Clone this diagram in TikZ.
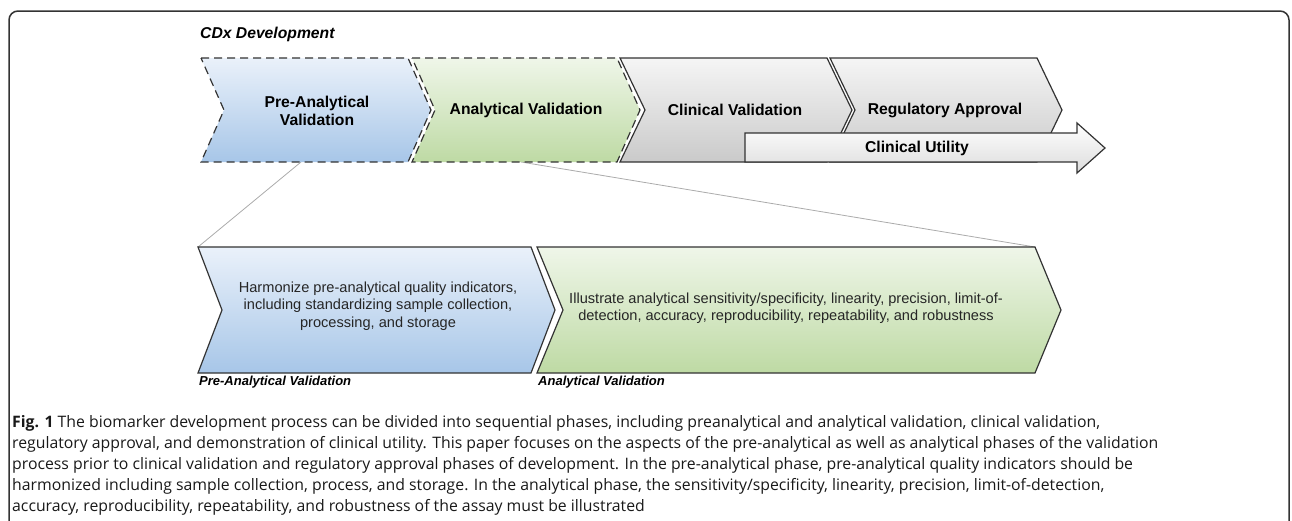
\documentclass[tikz,border=0pt]{standalone}
\usepackage{fontspec}
\setmainfont{Liberation Sans}
\newfontfamily\capfont{Open Sans}
\usetikzlibrary{positioning}

\definecolor{edge}{HTML}{333333}
\definecolor{bluetop}{HTML}{EAF1FA}
\definecolor{bluebot}{HTML}{A7C6E8}
\definecolor{greentop}{HTML}{EFF6E9}
\definecolor{greenbot}{HTML}{BEDAA4}
\definecolor{graytop}{HTML}{F5F5F5}
\definecolor{graybot}{HTML}{CACACA}
\definecolor{utilbot}{HTML}{DCDCDC}
\definecolor{zoomline}{HTML}{ABABAB}

% chevron: [style]{left x}{top y}{width}{height}{tip depth}
\newcommand{\chevron}[6][]{%
  \path[#1] (#2,#3) -- ({#2+#4},#3) -- ({#2+#4+#6},{#3+#5/2}) -- ({#2+#4},{#3+#5})
    -- (#2,{#3+#5}) -- ({#2+#6},{#3+#5/2}) -- cycle;}

\tikzset{
  phase/.style={draw=edge, line width=1.2pt, line join=miter},
  pending/.style={phase, dash pattern=on 8pt off 5pt},
  bluefill/.style={top color=bluetop, bottom color=bluebot},
  greenfill/.style={top color=greentop, bottom color=greenbot},
  grayfill/.style={top color=graytop, bottom color=graybot},
  stage/.style={font=\fontsize{15.7}{18.5}\selectfont\bfseries, align=center, inner sep=0pt},
  detail/.style={font=\fontsize{14.6}{17.5}\selectfont, align=center, text=black!85, inner sep=0pt},
  tag/.style={font=\fontsize{13}{15}\selectfont\bfseries\itshape, anchor=west, inner sep=0pt},
  zoom/.style={draw=zoomline, line width=0.8pt},
  caption/.style={font=\capfont\fontsize{15.8}{21}\selectfont, align=left, anchor=north west, inner sep=0pt, text=black!90},
}

\begin{document}
\begin{tikzpicture}[x=1pt,y=-1pt]
\useasboundingbox (0,0) rectangle (1292,520);
\draw[edge, line width=1.5pt, rounded corners=9pt] (9,11) rectangle (1289,560);

\node[tag, font=\fontsize{15.7}{18}\selectfont\bfseries\itshape] (cdx) at (200,34) {CDx Development};

% zoom lines
\coordinate (preFoot) at (301,162);
\coordinate (anaFoot) at (521,162);
\coordinate (preCorner) at (198,247);
\coordinate (anaCorner) at (1035,247);
\draw[zoom] (preFoot) -- (preCorner);
\draw[zoom] (anaFoot) -- (anaCorner);

% top row
\chevron[pending, bluefill]{201}{58}{207}{104}{23}
\chevron[pending, greenfill]{412}{58}{205}{104}{23}
\chevron[phase, grayfill]{620}{58}{207}{104}{25}
\chevron[phase, grayfill]{830}{58}{207}{104}{25}
\path[phase, top color=white, bottom color=utilbot] (745,133) -- (1077,133) -- (1077,123)
  -- (1105,148) -- (1077,173) -- (1077,162) -- (745,162) -- cycle;

\node[stage] (pre) at (317,111) {Pre-Analytical\\Validation};
\node[stage] (ana) at (526,110) {Analytical Validation};
\node[stage] (clin) at (735,110) {Clinical Validation};
\node[stage] (reg) at (945,110) {Regulatory Approval};
\node[stage] (util) at (917,148) {Clinical Utility};

% bottom row
\chevron[phase, bluefill]{198}{247}{333}{126}{24}
\chevron[phase, greenfill]{537}{247}{498}{126}{26}

\node[detail] (preNote) at (378,306) {Harmonize pre-analytical quality indicators,\\including standardizing sample collection,\\processing, and storage};
\node[detail] (anaNote) at (786,308) {Illustrate analytical sensitivity/specificity, linearity, precision, limit-of-\\detection, accuracy, reproducibility, repeatability, and robustness};

\node[tag] (preTag) at (199,382) {Pre-Analytical Validation};
\node[tag] (anaTag) at (538,382) {Analytical Validation};

\node[caption] (cap) at (12,415) {\textbf{Fig. 1} The biomarker development process can be divided into sequential phases, including preanalytical and analytical validation, clinical validation,\\
regulatory approval, and demonstration of clinical utility. This paper focuses on the aspects of the pre-analytical as well as analytical phases of the validation\\
process prior to clinical validation and regulatory approval phases of development. In the pre-analytical phase, pre-analytical quality indicators should be\\
harmonized including sample collection, process, and storage. In the analytical phase, the sensitivity/specificity, linearity, precision, limit-of-detection,\\
accuracy, reproducibility, repeatability, and robustness of the assay must be illustrated};
\end{tikzpicture}
\end{document}
